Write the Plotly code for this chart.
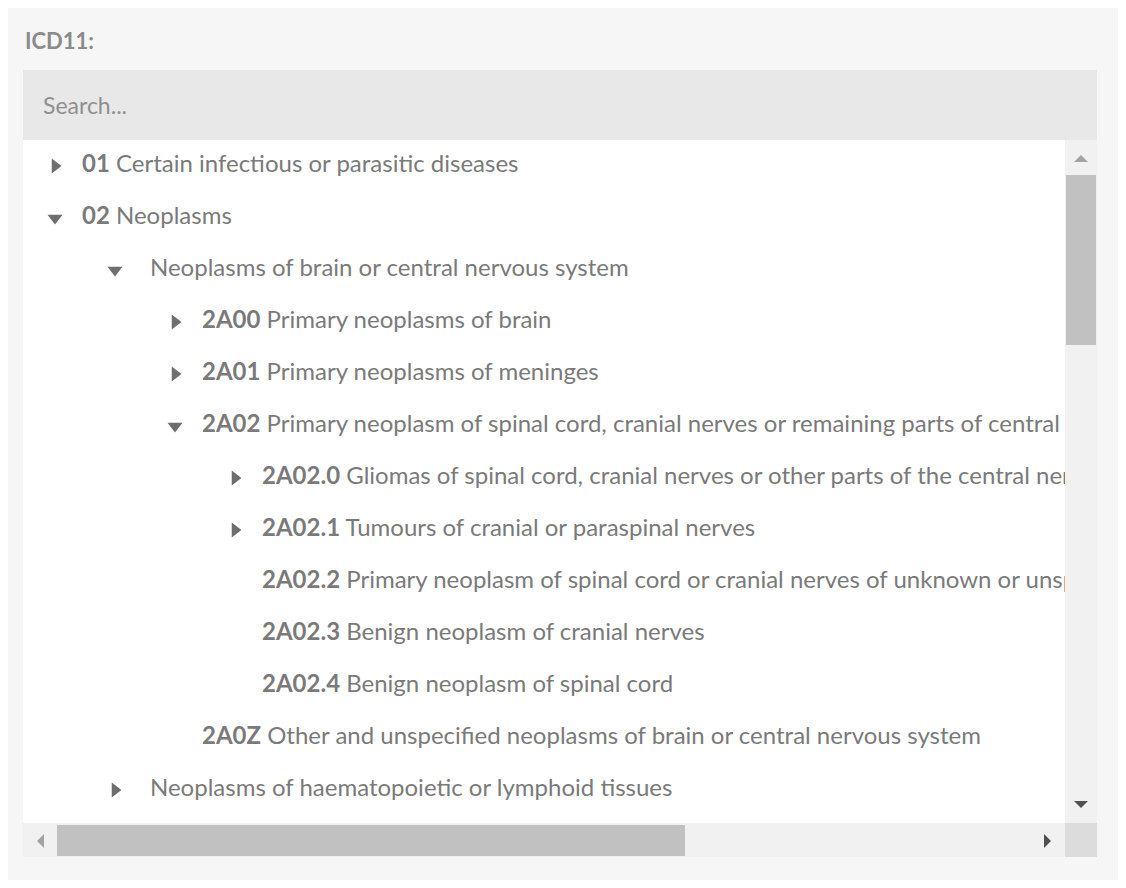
import plotly.graph_objects as go

# tree rows: depth, state ('open', 'closed', None), code, label
depths = [0, 0, 1, 2, 2, 2, 3, 3, 3, 3, 3, 2, 1]
states = ["closed", "open", "open", "closed", "closed", "open", "closed", "closed", None, None, None, None, "closed"]
codes = ["01", "02", "", "2A00", "2A01", "2A02", "2A02.0", "2A02.1", "2A02.2", "2A02.3", "2A02.4", "2A0Z", ""]
labels = [
    "Certain infectious or parasitic diseases",
    "Neoplasms",
    "Neoplasms of brain or central nervous system",
    "Primary neoplasms of brain",
    "Primary neoplasms of meninges",
    "Primary neoplasm of spinal cord, cranial nerves or remaining parts of central nervous system",
    "Gliomas of spinal cord, cranial nerves or other parts of the central nervous system",
    "Tumours of cranial or paraspinal nerves",
    "Primary neoplasm of spinal cord or cranial nerves of unknown or unspecified type",
    "Benign neoplasm of cranial nerves",
    "Benign neoplasm of spinal cord",
    "Other and unspecified neoplasms of brain or central nervous system",
    "Neoplasms of haematopoietic or lymphoid tissues",
]

# page body has an 8px margin, so the figure is 16px smaller and coordinates are screen pixels
OFF = 8
W, H = 1126 - 2 * OFF, 888 - 2 * OFF
row0, step = 166, 52
ys = [row0 + i * step for i in range(len(labels))]
icon_x = [55 + 60 * d for d in depths]
start = {0: 82, 1: 150, 2: 202, 3: 262}
text_x = [start[d] for d in depths]
texts = [("<b>%s</b> %s" % (c, l)) if c else l for c, l in zip(codes, labels)]

fig = go.Figure()
fig.add_trace(go.Scatter(
    x=text_x, y=ys, mode="text", text=texts, textposition="middle right",
    textfont=dict(family="Lato, Open Sans, sans-serif", size=24, color="#7a7a7a"),
    cliponaxis=True, xaxis="x2", yaxis="y2", hoverinfo="skip"))
for st, sym in [("closed", "triangle-right"), ("open", "triangle-down")]:
    fig.add_trace(go.Scatter(
        x=[icon_x[i] for i in range(len(states)) if states[i] == st],
        y=[ys[i] for i in range(len(states)) if states[i] == st],
        mode="markers", marker=dict(symbol=sym, size=13, color="#6e6e6e"),
        xaxis="x2", yaxis="y2", hoverinfo="skip"))

shapes = [
    dict(type="rect", x0=23, x1=1097, y0=70, y1=140, fillcolor="#e8e8e8", line_width=0),
    dict(type="rect", x0=23, x1=1065, y0=140, y1=823, fillcolor="white", line_width=0),
    dict(type="rect", x0=1065, x1=1097, y0=140, y1=823, fillcolor="#f1f1f1", line_width=0),
    dict(type="rect", x0=1066, x1=1096, y0=175, y1=345, fillcolor="#c1c1c1", line_width=0),
    dict(type="rect", x0=23, x1=1065, y0=823, y1=857, fillcolor="#f1f1f1", line_width=0),
    dict(type="rect", x0=1065, x1=1097, y0=823, y1=857, fillcolor="#dcdcdc", line_width=0),
    dict(type="rect", x0=57, x1=685, y0=825, y1=856, fillcolor="#c1c1c1", line_width=0),
    dict(type="path", path="M1074,162 L1088,162 L1081,155 Z", fillcolor="#a3a3a3", line_width=0),
    dict(type="path", path="M1074,801 L1088,801 L1081,808 Z", fillcolor="#505050", line_width=0),
    dict(type="path", path="M44,834 L44,848 L37,841 Z", fillcolor="#a3a3a3", line_width=0),
    dict(type="path", path="M1044,834 L1044,848 L1051,841 Z", fillcolor="#505050", line_width=0),
]
for s in shapes:
    s["layer"] = "below"
    s["xref"] = "x"
    s["yref"] = "y"

fig.update_layout(
    width=W, height=H, margin=dict(l=0, r=0, t=0, b=0, pad=0),
    paper_bgcolor="#f6f6f6", plot_bgcolor="rgba(0,0,0,0)", showlegend=False,
    xaxis=dict(range=[OFF, OFF + W], visible=False, domain=[0, 1]),
    yaxis=dict(range=[OFF + H, OFF], visible=False, domain=[0, 1]),
    xaxis2=dict(range=[23, 1065], visible=False, anchor="y2",
                domain=[(23 - OFF) / W, (1065 - OFF) / W]),
    yaxis2=dict(range=[823, 140], visible=False, anchor="x2",
                domain=[(OFF + H - 823) / H, (OFF + H - 140) / H]),
    shapes=shapes,
    annotations=[
        dict(x=23, y=40, xref="x", yref="y", text="<b>ICD11:</b>", showarrow=False, xanchor="left",
             font=dict(family="Lato, Open Sans, sans-serif", size=22, color="#8a8a8a")),
        dict(x=41, y=105, xref="x", yref="y", text="Search...", showarrow=False, xanchor="left",
             font=dict(family="Lato, Open Sans, sans-serif", size=23, color="#8f8f8f")),
    ],
)
fig.add_trace(go.Scatter(x=[OFF + 1], y=[OFF + 1], mode="markers", marker=dict(opacity=0), hoverinfo="skip"))
fig.write_html("out.html")
